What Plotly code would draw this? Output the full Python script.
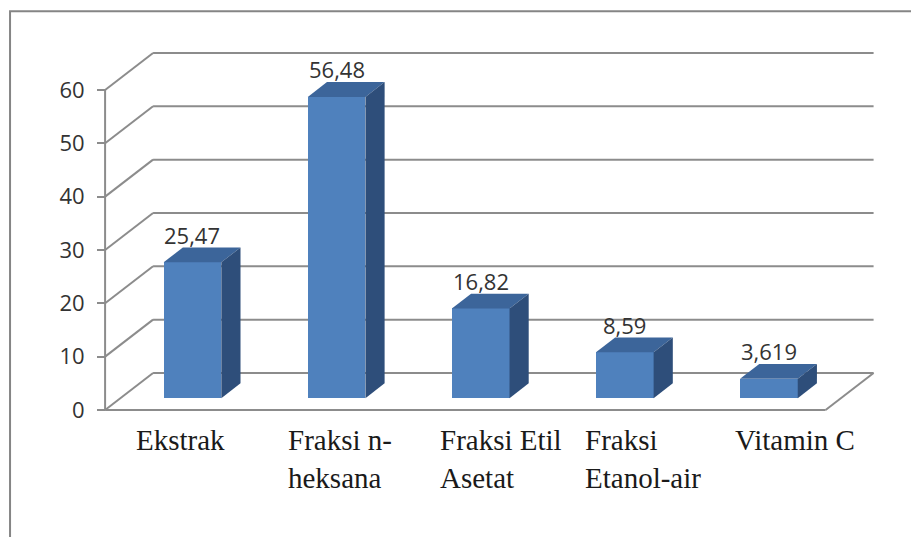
import plotly.graph_objects as go

# ---- data ----
categories = ["Ekstrak", "Fraksi n-<br>heksana", "Fraksi Etil<br>Asetat", "Fraksi<br>Etanol-air", "Vitamin C"]
values = [25.47, 56.48, 16.82, 8.59, 3.619]
value_labels = ["25,47", "56,48", "16,82", "8,59", "3,619"]
y_ticks = [0, 10, 20, 30, 40, 50, 60]

# ---- 3D-look geometry (in axis units) ----
DEPTH_X = 0.333      # full floor depth, x units
DEPTH_Y = 6.94       # full floor depth, y units
F_FRONT = 0.32       # bar front plane (fraction of depth)
F_BACK = 0.72        # bar back plane
BAR_W = 0.4

FRONT = "#4F81BD"
TOP = "#3C659A"
SIDE = "#2E4E7A"
GRID = "#8C8C8C"

fig = go.Figure()

n = len(categories)
xs = list(range(n))
front_x = [i + F_FRONT * DEPTH_X for i in xs]
base_y = F_FRONT * DEPTH_Y
dx = (F_BACK - F_FRONT) * DEPTH_X
dy = (F_BACK - F_FRONT) * DEPTH_Y

# front faces
fig.add_trace(go.Bar(x=front_x, y=values, base=base_y, width=BAR_W,
                     marker=dict(color=FRONT, line=dict(width=0)),
                     hoverinfo="skip", showlegend=False))

# top and side faces
for cx, v in zip(front_x, values):
    xl, xr = cx - BAR_W / 2, cx + BAR_W / 2
    top = base_y + v
    fig.add_trace(go.Scatter(
        x=[xl, xr, xr + dx, xl + dx, xl], y=[top, top, top + dy, top + dy, top],
        fill="toself", fillcolor=TOP, mode="lines", line=dict(width=0),
        hoverinfo="skip", showlegend=False))
    fig.add_trace(go.Scatter(
        x=[xr, xr + dx, xr + dx, xr, xr], y=[base_y, base_y + dy, top + dy, top, base_y],
        fill="toself", fillcolor=SIDE, mode="lines", line=dict(width=0),
        hoverinfo="skip", showlegend=False))

annotations = []
# data labels
for cx, v, lab in zip(front_x, values, value_labels):
    annotations.append(dict(x=cx, y=base_y + v + dy, xref="x", yref="y", text=lab,
                            showarrow=False, xanchor="center", yanchor="bottom", yshift=-4,
                            font=dict(family="Open Sans", size=22, color="#333333")))

# walls / grid as shapes below traces
x_left, x_right = -0.5, n - 0.5
shapes = []
line = dict(color=GRID, width=2)
for t in y_ticks:
    shapes.append(dict(type="line", layer="below", xref="x", yref="y",
                       x0=x_left + DEPTH_X, y0=t + DEPTH_Y, x1=x_right + DEPTH_X, y1=t + DEPTH_Y, line=line))
    shapes.append(dict(type="line", layer="below", xref="x", yref="y",
                       x0=x_left, y0=t, x1=x_left + DEPTH_X, y1=t + DEPTH_Y, line=line))
# floor
shapes.append(dict(type="line", layer="below", xref="x", yref="y",
                   x0=x_left, y0=0, x1=x_right, y1=0, line=line))
shapes.append(dict(type="line", layer="below", xref="x", yref="y",
                   x0=x_right, y0=0, x1=x_right + DEPTH_X, y1=DEPTH_Y, line=line))
# front vertical axis line
shapes.append(dict(type="line", layer="below", xref="x", yref="y",
                   x0=x_left, y0=0, x1=x_left, y1=max(y_ticks), line=line))
# outer chart border
shapes.append(dict(type="rect", xref="paper", yref="paper",
                   x0=-0.107, y0=-0.6, x1=1.3, y1=1.049,
                   line=dict(color="#858585", width=2)))

# category labels
label_nudge = [-43, -35, -27, -26, -21]
for i, (c, nud) in enumerate(zip(categories, label_nudge)):
    annotations.append(dict(x=i, y=-0.018, xref="x", yref="paper", text=c, showarrow=False,
                            xanchor="left", yanchor="top", align="left", xshift=nud,
                            font=dict(family="Liberation Serif", size=29, color="#1a1a1a")))

fig.update_layout(
    width=911, height=529,
    margin=dict(l=87, r=30, t=22, b=122),
    paper_bgcolor="white", plot_bgcolor="white",
    xaxis=dict(range=[-0.57, 4.94], visible=False, fixedrange=True),
    yaxis=dict(range=[-0.94, 71.25], anchor="free", position=0.0126,
               tickvals=y_ticks, ticktext=[str(t) for t in y_ticks],
               ticks="outside", ticklen=8, tickwidth=2, tickcolor=GRID,
               ticklabelstandoff=8,
               showgrid=False, zeroline=False, showline=False,
               tickfont=dict(family="Open Sans", size=22, color="#333333")),
    shapes=shapes, annotations=annotations, bargap=0,
)

fig.write_html("out.html")
